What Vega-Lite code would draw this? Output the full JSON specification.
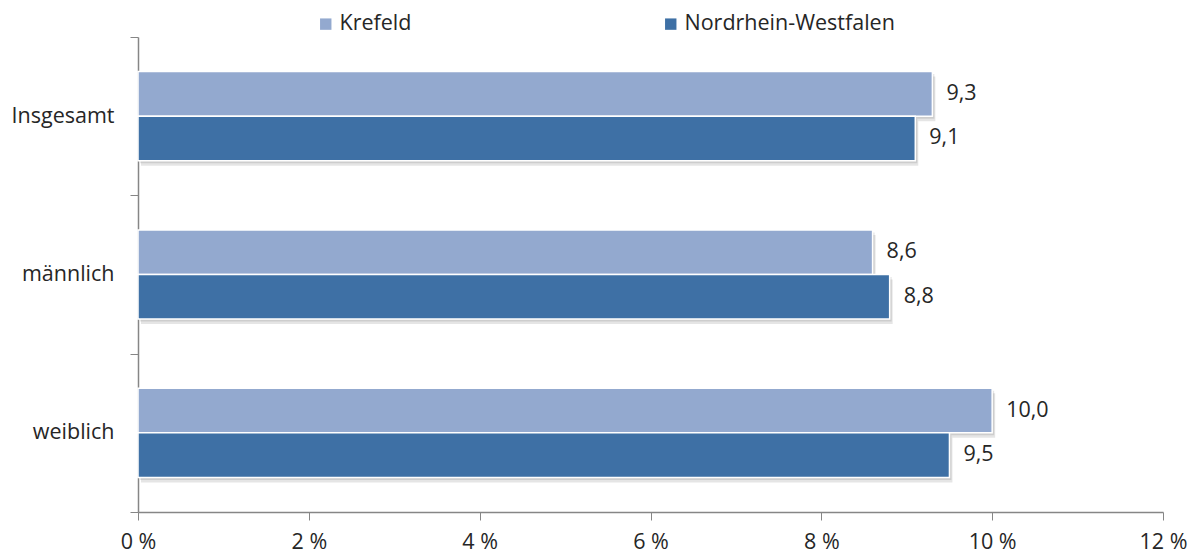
{
  "$schema": "https://vega.github.io/schema/vega-lite/v6.json",
  "width": 1025,
  "height": 475,
  "autosize": {"type": "none"},
  "padding": {"left": 138, "top": 37, "right": 35, "bottom": 43},
  "background": "white",
  "config": {
    "locale": {"number": {"decimal": ",", "thousands": ".", "grouping": [3], "currency": ["", " €"]}},
    "font": "Open Sans",
    "view": {"stroke": null},
    "axis": {"labelFont": "Open Sans", "labelFontSize": 21.5, "labelColor": "#262626", "domainColor": "#868686", "tickColor": "#868686", "title": null, "grid": false},
    "legend": {"labelFont": "Open Sans", "labelFontSize": 21.5, "labelColor": "#262626", "labelLimit": 0}
  },
  "data": {"values": [
    {"gruppe": "Insgesamt", "region": "Krefeld", "wert": 9.3},
    {"gruppe": "Insgesamt", "region": "Nordrhein-Westfalen", "wert": 9.1},
    {"gruppe": "männlich", "region": "Krefeld", "wert": 8.6},
    {"gruppe": "männlich", "region": "Nordrhein-Westfalen", "wert": 8.8},
    {"gruppe": "weiblich", "region": "Krefeld", "wert": 10.0},
    {"gruppe": "weiblich", "region": "Nordrhein-Westfalen", "wert": 9.5}
  ]},
  "resolve": {"scale": {"yOffset": "independent"}},
  "encoding": {
    "y": {
      "field": "gruppe", "type": "nominal",
      "sort": ["Insgesamt", "männlich", "weiblich"],
      "scale": {"paddingInner": 0, "paddingOuter": 0},
      "axis": {"tickBand": "extent", "tickSize": 8, "labelPadding": 16, "domainWidth": 1.5}
    },
    "x": {
      "field": "wert", "type": "quantitative",
      "scale": {"domain": [0, 12], "nice": false},
      "axis": {"values": [0, 2, 4, 6, 8, 10, 12], "tickSize": 8, "labelPadding": 11, "labelFlush": false, "labelExpr": "datum.label + ' %'", "domainWidth": 1.5}
    }
  },
  "layer": [
    {
      "mark": {"type": "bar", "color": "#000000", "opacity": 0.1, "xOffset": 3},
      "encoding": {
        "yOffset": {
          "field": "region", "type": "nominal",
          "sort": ["Krefeld", "Nordrhein-Westfalen"],
          "scale": {"paddingInner": 0, "paddingOuter": 0.775, "range": [5, 163.33]}
        }
      }
    },
    {
      "mark": {"type": "bar", "color": "#000000", "opacity": 0.1, "xOffset": 2},
      "encoding": {
        "yOffset": {
          "field": "region", "type": "nominal",
          "sort": ["Krefeld", "Nordrhein-Westfalen"],
          "scale": {"paddingInner": 0, "paddingOuter": 0.775, "range": [2.5, 160.83]}
        }
      }
    },
    {
      "encoding": {
        "yOffset": {
          "field": "region", "type": "nominal",
          "sort": ["Krefeld", "Nordrhein-Westfalen"],
          "scale": {"paddingInner": 0, "paddingOuter": 0.775}
        }
      },
      "layer": [
        {
          "mark": {"type": "bar", "stroke": "white", "strokeWidth": 1.5},
          "encoding": {
            "color": {
              "field": "region", "type": "nominal",
              "sort": ["Krefeld", "Nordrhein-Westfalen"],
              "scale": {"domain": ["Krefeld", "Nordrhein-Westfalen"], "range": ["#93A9CF", "#3E70A5"]},
              "legend": {
                "orient": "none", "legendX": 177, "legendY": -24, "direction": "horizontal",
                "title": null, "symbolType": "square", "symbolSize": 130, "symbolStrokeWidth": 0,
                "labelOffset": 3, "columnPadding": 248, "padding": 0
              }
            }
          }
        },
        {
          "mark": {"type": "text", "align": "left", "baseline": "middle", "dx": 14, "fontSize": 21.5, "color": "#262626", "font": "Open Sans"},
          "encoding": {
            "text": {"field": "wert", "type": "quantitative", "format": ".1f"}
          }
        }
      ]
    }
  ]
}
